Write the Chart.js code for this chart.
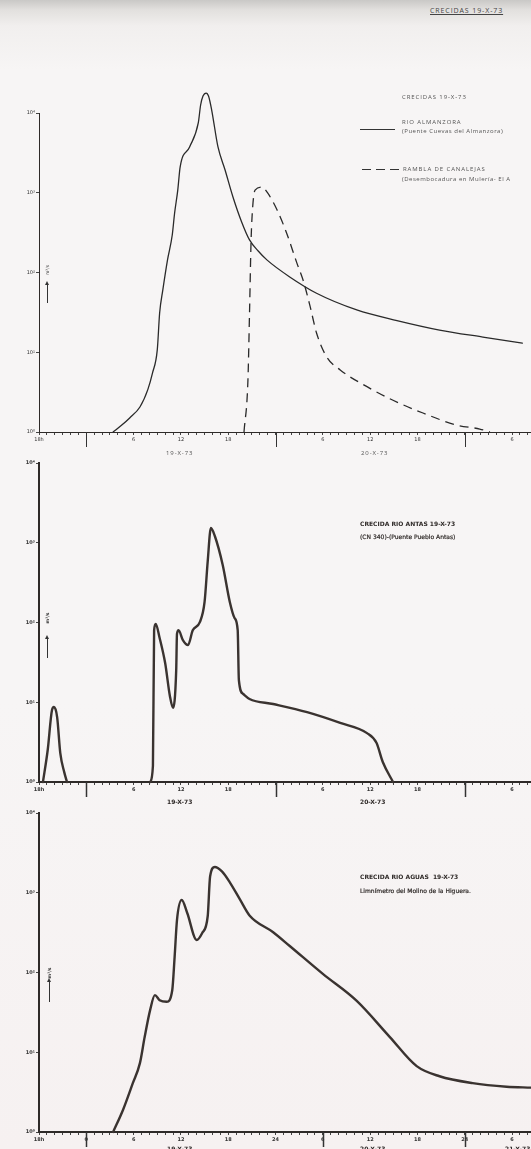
<!DOCTYPE html>
<html>
<head>
<meta charset="utf-8">
<script src="https://cdn.jsdelivr.net/npm/chart.js@4/dist/chart.umd.min.js"></script>
<style>
  html, body { margin: 0; padding: 0; }
  body {
    width: 531px; height: 1149px; overflow: hidden; position: relative;
    background: linear-gradient(to bottom, #c9c8c6 0px, #e2e0de 10px, #f1efee 26px, #f7f5f5 70px, #f7f5f5 700px, #f6f1f1 1149px);
    font-family: "DejaVu Sans", sans-serif; color: #333;
  }
  canvas { position: absolute; left: 0; }
  .t { position: absolute; white-space: nowrap; line-height: 1; }
  .thin { font-family: "Open Sans", sans-serif; font-size: 6px; letter-spacing: 0.9px; color: #555; }
  .bold { font-family: "DejaVu Sans", sans-serif; font-weight: bold; font-size: 6px; color: #2f2a28; }
  .unit { position: absolute; font-size: 4.5px; transform: translate(-50%, -50%) rotate(-90deg); color: #333; }
  .arrow { position: absolute; width: 1px; background: #333; }
  .arrow::before { content: ""; position: absolute; left: -2px; top: -3px; border-left: 2.5px solid transparent; border-right: 2.5px solid transparent; border-bottom: 4px solid #333; }
</style>
</head>
<body>
<canvas id="c1" width="531" height="410" style="top:60px"></canvas>
<canvas id="c2" width="531" height="380" style="top:440px"></canvas>
<canvas id="c3" width="531" height="359" style="top:790px"></canvas>

<div class="t thin" style="left:430px;top:7px;font-size:7px;text-decoration:underline;color:#444">CRECIDAS 19-X-73</div>

<!-- panel 1 notes -->
<div class="t thin" style="left:402px;top:94px">CRECIDAS 19-X-73</div>
<div style="position:absolute;left:360px;top:129px;width:35px;height:1.3px;background:#333"></div>
<div class="t thin" style="left:402px;top:119px">RIO ALMANZORA</div>
<div class="t thin" style="left:402px;top:128px;letter-spacing:0.5px">(Puente Cuevas del Almanzora)</div>
<div style="position:absolute;left:362px;top:169px;width:40px;height:1.3px;background:repeating-linear-gradient(90deg,#333 0 9px,transparent 9px 14px)"></div>
<div class="t thin" style="left:403px;top:166px">RAMBLA DE CANALEJAS</div>
<div class="t thin" style="left:402px;top:176px;letter-spacing:0.5px">(Desembocadura en Mulería- El A</div>
<div class="t thin" style="left:166px;top:450px">19-X-73</div>
<div class="t thin" style="left:361px;top:450px">20-X-73</div>
<div class="unit" style="left:47px;top:270px">m³/s</div>
<div class="arrow" style="left:47px;top:284px;height:19px"></div>

<!-- panel 2 notes -->
<div class="t bold" style="left:360px;top:521px">CRECIDA RIO ANTAS 19-X-73</div>
<div class="t bold" style="left:360px;top:534px;font-weight:normal;-webkit-text-stroke:0.2px #2f2a28">(CN 340)-(Puente Pueblo Antas)</div>
<div class="t bold" style="left:167px;top:799px">19-X-73</div>
<div class="t bold" style="left:360px;top:799px">20-X-73</div>
<div class="unit" style="left:47px;top:618px;font-weight:bold">m³/s</div>
<div class="arrow" style="left:47px;top:638px;height:20px"></div>

<!-- panel 3 notes -->
<div class="t bold" style="left:360px;top:874px">CRECIDA RIO AGUAS&nbsp; 19-X-73</div>
<div class="t bold" style="left:360px;top:888px;font-weight:normal;-webkit-text-stroke:0.2px #2f2a28">Limnímetro del Molino de la Higuera.</div>
<div class="t bold" style="left:167px;top:1146px">19-X-73</div>
<div class="t bold" style="left:360px;top:1146px">20-X-73</div>
<div class="t bold" style="left:505px;top:1146px">21-X-73</div>
<div class="unit" style="left:49px;top:973px;font-weight:bold">m³/s</div>
<div class="arrow" style="left:49px;top:981px;height:21px"></div>

<script>
// hours counted from 18h on 18-X-73, flows in m3/s
const almanzoraHours = [9.4, 10.5, 11.5, 12.8, 13.8, 14.4, 15.0, 15.3, 15.7, 16.3, 16.9, 17.2, 17.6, 17.9, 19.1, 20.2, 20.5, 20.8, 21.2, 21.5, 21.9, 22.7, 23.6, 24.6, 25.7, 26.7, 27.8, 28.9, 31.8, 35.2, 40.3, 45.4, 50.8, 56.3, 61.3];
const almanzoraFlow = [1, 1.22, 1.5, 2.06, 3.4, 5.5, 10.7, 31, 60, 144, 295, 557, 1080, 2100, 3750, 7500, 12600, 16300, 17800, 16300, 10900, 3750, 1930, 885, 430, 256, 186, 144, 88, 55, 34, 25, 19, 15.5, 13];

const canalejasHours = [26.0, 26.5, 26.7, 26.9, 27.1, 27.4, 28.3, 29.0, 30.2, 31.4, 32.7, 33.5, 34.4, 35.2, 36.5, 38.2, 41.6, 44.9, 48.7, 53.0, 55.9, 57.2];
const canalejasFlow = [1, 4.5, 31, 256, 663, 1080, 1180, 993, 608, 313, 132, 80, 37, 17.4, 8.7, 6.0, 3.7, 2.5, 1.73, 1.22, 1.09, 1];

// null = no flow between the two events
const antasHours = [0.5, 1.1, 1.65, 1.9, 2.3, 2.7, 3.2, 3.55, 9, 14.1, 14.45, 14.6, 14.8, 15.3, 16.0, 16.6, 17.0, 17.4, 17.5, 17.7, 18.25, 18.9, 19.5, 20.4, 21.0, 21.4, 21.8, 22.3, 23.3, 24.2, 24.8, 25.2, 25.35, 25.9, 26.7, 29.7, 34.0, 38.2, 41.6, 42.8, 43.6, 44.9];
const antasFlow = [1, 2.5, 8.0, 8.7, 6.5, 2.3, 1.33, 1, null, 1, 1.6, 80, 96, 64, 31, 12, 8.5, 25, 72, 80, 60, 52, 80, 101, 181, 590, 1530, 1215, 526, 181, 114, 80, 19, 12.7, 11, 9.5, 7.5, 5.5, 4.1, 3.1, 1.78, 1];

const aguasHours = [9.4, 10.65, 11.9, 12.8, 13.4, 14.1, 14.7, 15.3, 16.2, 16.9, 17.2, 17.5, 18.1, 18.8, 20.0, 20.7, 21.4, 21.7, 22.3, 23.2, 24.2, 25.5, 26.7, 29.7, 31.8, 36.0, 40.3, 44.5, 47.9, 50.8, 55.0, 59.3, 62.4];
const aguasFlow = [1, 1.89, 4.1, 7.3, 15.5, 34, 52, 45, 43, 60, 156, 455, 811, 557, 256, 313, 511, 1600, 2100, 1850, 1350, 820, 520, 320, 215, 96, 44, 15.5, 6.7, 5.0, 4.1, 3.7, 3.6];

// axis ticks
const hourTicks = Array.from({ length: 63 }, (_, i) => i);
const labelHours = [0, 12, 18, 24, 36, 42, 48, 60];
const labelTexts = ["18h", "6", "12", "18", "6", "12", "18", "6"];
const labelHours3 = [0, 6, 12, 18, 24, 30, 36, 42, 48, 54, 60];
const labelTexts3 = ["18h", "0", "6", "12", "18", "24", "6", "12", "18", "24", "6"];
const midnightHours = [6, 30, 54];
const midnightHours3 = [6, 36, 54];
const decadeValues = [1, 10, 100, 1000, 10000];
const decadeLabels = ["10⁰", "10¹", "10²", "10³", "10⁴"];

const points = (hours, flow) => hours.map((h, i) => ({ x: h, y: flow[i] }));

function longTicks(hours, width, color) {
  return {
    id: "longTicks",
    afterDraw(chart) {
      const ctx = chart.ctx;
      const xs = chart.scales.x;
      const bottom = chart.chartArea.bottom;
      ctx.save();
      ctx.strokeStyle = color;
      ctx.lineWidth = width;
      hours.forEach(h => {
        const px = Math.round(xs.getPixelForValue(h)) + 0.5;
        ctx.beginPath();
        ctx.moveTo(px, bottom);
        ctx.lineTo(px, bottom + 15);
        ctx.stroke();
      });
      ctx.restore();
    }
  };
}

function makeChart(id, datasets, cfg) {
  const font = { family: "DejaVu Sans", size: 5, weight: cfg.bold ? "bold" : "normal" };
  return new Chart(document.getElementById(id), {
    type: "line",
    data: { datasets },
    options: {
      responsive: false,
      animation: false,
      events: [],
      layout: { padding: { top: cfg.padTop, left: 0, right: 0, bottom: 0 } },
      plugins: { legend: { display: false }, tooltip: { enabled: false } },
      elements: {
        point: { radius: 0 },
        line: { cubicInterpolationMode: "monotone", borderCapStyle: "round", borderJoinStyle: "round" }
      },
      scales: {
        x: {
          type: "linear",
          min: 0,
          max: 62.4,
          afterFit: s => { s.height = cfg.xHeight; },
          afterBuildTicks: s => { s.ticks = hourTicks.map(v => ({ value: v })); },
          ticks: {
            autoSkip: false,
            maxRotation: 0,
            padding: 2,
            font,
            color: "#333",
            callback: v => {
              const i = cfg.labelHours.indexOf(v);
              return i >= 0 ? cfg.labelTexts[i] : "";
            }
          },
          grid: { drawOnChartArea: false, tickLength: 3, tickColor: "#444", tickWidth: 1 },
          border: { color: "#2e2a28", width: cfg.axisWidth }
        },
        y: {
          type: "logarithmic",
          min: 1,
          max: 10000,
          afterFit: s => { s.width = 39; },
          afterBuildTicks: s => { s.ticks = decadeValues.map(v => ({ value: v })); },
          ticks: {
            padding: 1,
            font,
            color: "#333",
            callback: v => {
              const i = decadeValues.indexOf(v);
              return i >= 0 ? decadeLabels[i] : "";
            }
          },
          grid: { drawOnChartArea: false, tickLength: 3, tickColor: "#444", tickWidth: 1 },
          border: { color: "#2e2a28", width: cfg.axisWidth }
        }
      }
    },
    plugins: [longTicks(cfg.midnights, cfg.bold ? 1.5 : 1, "#333")]
  });
}

makeChart("c1", [
  { label: "Río Almanzora", data: points(almanzoraHours, almanzoraFlow), borderColor: "#2a2a2a", borderWidth: 1.3, clip: false },
  { label: "Rambla de Canalejas", data: points(canalejasHours, canalejasFlow), borderColor: "#2a2a2a", borderWidth: 1.3, borderDash: [9, 6], borderCapStyle: "butt", clip: false }
], { padTop: 53, xHeight: 38, axisWidth: 1, bold: false, labelHours, labelTexts, midnights: midnightHours });

makeChart("c2", [
  { label: "Río Antas", data: points(antasHours, antasFlow), borderColor: "#3a3330", borderWidth: 2.4, clip: false }
], { padTop: 23, xHeight: 38, axisWidth: 2, bold: true, labelHours, labelTexts, midnights: midnightHours });

makeChart("c3", [
  { label: "Río Aguas", data: points(aguasHours, aguasFlow), borderColor: "#3a3330", borderWidth: 2.4, clip: false }
], { padTop: 23, xHeight: 17, axisWidth: 2, bold: true, labelHours: labelHours3, labelTexts: labelTexts3, midnights: midnightHours3 });
</script>
</body>
</html>
